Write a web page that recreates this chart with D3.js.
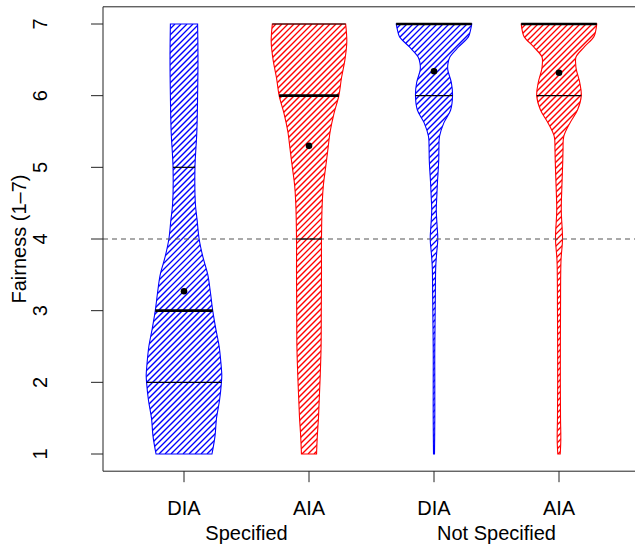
<!DOCTYPE html>
<html>
<head>
<meta charset="utf-8">
<script src="https://cdn.jsdelivr.net/npm/d3@7"></script>
<style>
  body { margin: 0; background: #fff; }
  text { font-family: "Liberation Sans", Arial, Helvetica, sans-serif; fill: #000; }
</style>
</head>
<body>
<div id="chart"></div>
<script>
// categories and groups
var categories = ["DIA", "AIA", "DIA", "AIA"];
var groups = ["Specified", "Not Specified"];
var colors = ["#0000ff", "#ff0000", "#0000ff", "#ff0000"];
var yTicks = [1, 2, 3, 4, 5, 6, 7];

// relative density profiles: [value, width 0..1]
var densDiaSpec = [[1,.74],[1.25,.82],[1.5,.86],[1.75,.94],[2,.99],[2.1,1],[2.25,.98],[2.5,.93],[2.75,.84],
  [3,.76],[3.25,.70],[3.5,.63],[3.75,.50],[4,.40],[4.25,.35],[4.5,.30],[5,.29],[5.5,.34],[6,.36],[6.5,.37],[7,.36]];
var densAiaSpec = [[1,.20],[1.25,.22],[1.5,.25],[1.75,.27],[2,.29],[2.5,.32],[3,.325],[3.5,.33],[4,.33],
  [4.5,.35],[4.75,.38],[5,.44],[5.25,.50],[5.5,.56],[5.75,.66],[6,.79],[6.25,.86],[6.5,.95],[6.75,1],[7,.97]];
var densDiaNot = [[1,.013],[1.5,.021],[2,.021],[2.4,.02],[2.8,.027],[3.2,.035],[3.6,.045],[3.8,.07],[4,.10],
  [4.2,.08],[4.4,.06],[4.6,.075],[4.78,.09],[4.95,.11],[5.1,.125],[5.25,.13],[5.43,.145],[5.62,.26],[5.8,.44],
  [6,.49],[6.18,.46],[6.36,.365],[6.45,.37],[6.54,.42],[6.68,.65],[6.82,.91],[6.9,.96],[7,1]];
var densAiaNot = [[1,.032],[1.2,.048],[1.5,.04],[2,.035],[3,.04],[3.7,.053],[4,.093],[4.4,.06],[4.78,.08],
  [5.1,.10],[5.25,.107],[5.43,.125],[5.62,.29],[5.8,.49],[6,.59],[6.18,.55],[6.36,.46],[6.45,.44],[6.54,.45],
  [6.68,.67],[6.82,.92],[6.9,.97],[7,1]];
var densities = [densDiaSpec, densAiaSpec, densDiaNot, densAiaNot];

// quartiles and means
var q1 = [2, 4, 6, 6];
var medians = [3, 6, 7, 7];
var q3 = [5, 7, 7, 7];
var means = [3.27, 5.30, 6.34, 6.32];

var W = 635, H = 546, fs = 20;
var svg = d3.select("#chart").append("svg").attr("width", W).attr("height", H);

var x = d3.scaleLinear().domain([0.352, 4.648]).range([103, 640]);
var y = d3.scaleLinear().domain([1, 7]).range([454, 24]);
var w = d3.scaleLinear().domain([0, 1]).range([0, 37.8]);
var boxTop = y(7.24), boxBot = y(0.76);

function widthAt(dens, v) {
  for (var k = 0; k < dens.length - 1; k++) {
    if (v >= dens[k][0] && v <= dens[k + 1][0]) {
      var t = (v - dens[k][0]) / (dens[k + 1][0] - dens[k][0]);
      return dens[k][1] + t * (dens[k + 1][1] - dens[k][1]);
    }
  }
  return dens[dens.length - 1][1];
}

var area = d3.area().curve(d3.curveCatmullRom);
var defs = svg.append("defs");

// violins: hatching clipped to the shape, then outline
densities.forEach(function(dens, i) {
  var cx = x(i + 1);
  area.y(function(d) { return y(d[0]); })
    .x0(function(d) { return cx - w(d[1]); })
    .x1(function(d) { return cx + w(d[1]); });
  var dPath = area(dens);
  defs.append("clipPath").attr("id", "clip" + i)
    .append("path").attr("d", dPath);
  var hatch = svg.append("g")
    .attr("clip-path", "url(#clip" + i + ")");
  var y0 = y(7), y1 = y(1), span = y1 - y0;
  for (var k = Math.round(cx) - 45 - span; k < cx + 45; k += 6) {
    hatch.append("line")
      .attr("x1", k).attr("y1", y1)
      .attr("x2", k + span).attr("y2", y0)
      .attr("stroke", colors[i]).attr("stroke-width", 1.3);
  }
  svg.append("path")
    .attr("d", dPath)
    .attr("fill", "none")
    .attr("stroke", colors[i])
    .attr("stroke-width", 1.1);
});

// reference line at 4
svg.append("line")
  .attr("x1", 103).attr("x2", 640)
  .attr("y1", y(4)).attr("y2", y(4))
  .attr("stroke", "#555").attr("stroke-width", 1.2)
  .attr("stroke-dasharray", "5,4");

// quartile and median bars, mean points
densities.forEach(function(dens, i) {
  var cx = x(i + 1);
  [[q1[i], 1.2], [q3[i], 1.2], [medians[i], 2.6]].forEach(function(q) {
    var hw = w(widthAt(dens, q[0]));
    svg.append("line")
      .attr("x1", cx - hw).attr("x2", cx + hw)
      .attr("y1", y(q[0])).attr("y2", y(q[0]))
      .attr("stroke", "#000").attr("stroke-width", q[1]);
  });
  svg.append("circle")
    .attr("cx", cx).attr("cy", y(means[i]))
    .attr("r", 3.3).attr("fill", "#000");
});

// plot box (right side falls outside the window)
svg.append("path")
  .attr("d", "M640," + boxTop + "H103V" + boxBot + "H640")
  .attr("fill", "none").attr("stroke", "#222").attr("stroke-width", 1);

// y axis
yTicks.forEach(function(t) {
  svg.append("line")
    .attr("x1", 91).attr("x2", 103)
    .attr("y1", y(t)).attr("y2", y(t))
    .attr("stroke", "#222");
  svg.append("text")
    .attr("transform", "translate(47," + y(t) + ") rotate(-90)")
    .attr("text-anchor", "middle")
    .attr("font-size", fs)
    .text(t);
});
svg.append("text")
  .attr("transform", "translate(26," + y(4) + ") rotate(-90)")
  .attr("text-anchor", "middle")
  .attr("font-size", fs)
  .text("Fairness (1\u20137)");

// x axis
categories.forEach(function(c, i) {
  svg.append("line")
    .attr("x1", x(i + 1)).attr("x2", x(i + 1))
    .attr("y1", boxBot).attr("y2", boxBot + 11)
    .attr("stroke", "#222");
  svg.append("text")
    .attr("x", x(i + 1)).attr("y", 515)
    .attr("text-anchor", "middle")
    .attr("font-size", fs)
    .text(c);
});
groups.forEach(function(g, j) {
  svg.append("text")
    .attr("x", x(2 * j + 1.5)).attr("y", 540)
    .attr("text-anchor", "middle")
    .attr("font-size", fs)
    .text(g);
});
</script>
</body>
</html>
